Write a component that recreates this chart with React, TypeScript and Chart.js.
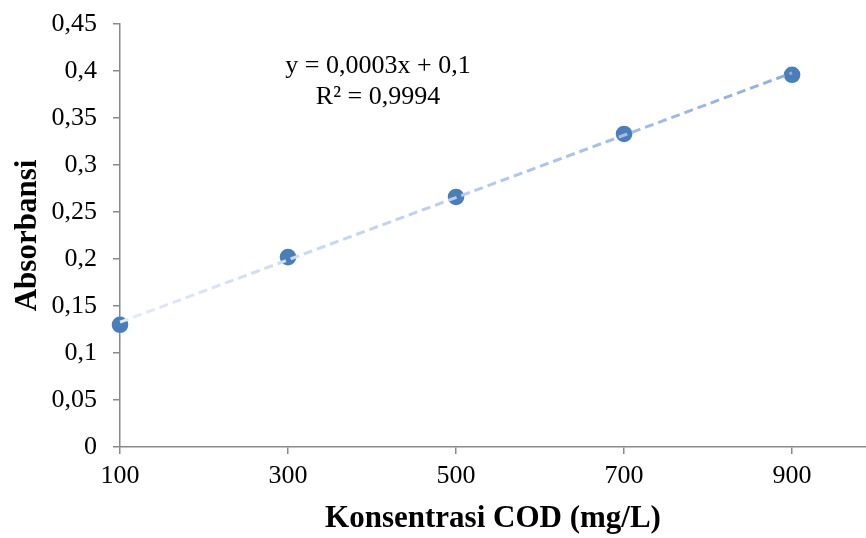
import React, { useEffect, useRef } from "react";
import { Chart, registerables } from "chart.js";

Chart.register(...registerables);

// ---- data ----
const X_VALUES = [100, 300, 500, 700, 900];
const Y_VALUES = [0.13, 0.202, 0.266, 0.333, 0.396];
const X_TICKS = [100, 300, 500, 700, 900];
const Y_TICKS = [0, 0.05, 0.1, 0.15, 0.2, 0.25, 0.3, 0.35, 0.4, 0.45];
const X_TITLE = "Konsentrasi COD (mg/L)";
const Y_TITLE = "Absorbansi";
const EQUATION_LINES = ["y = 0,0003x + 0,1", "R² = 0,9994"];

// least-squares trendline through the data points
function linearFit(xs: number[], ys: number[]) {
  const n = xs.length;
  const mx = xs.reduce((a, b) => a + b, 0) / n;
  const my = ys.reduce((a, b) => a + b, 0) / n;
  let sxy = 0;
  let sxx = 0;
  for (let i = 0; i < n; i++) {
    sxy += (xs[i] - mx) * (ys[i] - my);
    sxx += (xs[i] - mx) * (xs[i] - mx);
  }
  const slope = sxy / sxx;
  return { slope, intercept: my - slope * mx };
}

const FONT = "'Liberation Serif', 'Times New Roman', serif";
const AXIS_COLOR = "#8a8a8a";

const fmt = (v: number) => String(+v.toFixed(4)).replace(".", ",");

export default function App() {
  const canvasRef = useRef<HTMLCanvasElement | null>(null);

  useEffect(() => {
    if (!canvasRef.current) return;
    const fit = linearFit(X_VALUES, Y_VALUES);
    const xMin = Math.min(...X_VALUES);
    const xMax = Math.max(...X_VALUES);
    const trend = [
      { x: xMin, y: fit.slope * xMin + fit.intercept },
      { x: xMax, y: fit.slope * xMax + fit.intercept },
    ];
    const points = X_VALUES.map((x, i) => ({ x, y: Y_VALUES[i] }));

    const equationPlugin = {
      id: "equation",
      afterDatasetsDraw(chart: any) {
        const { ctx, chartArea } = chart;
        ctx.save();
        ctx.font = `26px ${FONT}`;
        ctx.fillStyle = "#000";
        ctx.textAlign = "center";
        ctx.textBaseline = "alphabetic";
        const cx = chartArea.left + 258;
        ctx.fillText(EQUATION_LINES[0], cx, chartArea.top + 49);
        ctx.fillText(EQUATION_LINES[1], cx, chartArea.top + 80);
        ctx.restore();
      },
    };

    const chart = new Chart(canvasRef.current, {
      type: "scatter",
      data: {
        datasets: [
          {
            label: "Trend",
            data: trend,
            showLine: true,
            pointRadius: 0,
            borderWidth: 3,
            borderDash: [9, 5],
            borderColor: (c: any) => {
              const ch = c.chart;
              const sx = ch.scales?.x;
              if (!ch.chartArea || !sx) return "#a9c0e6";
              const g = ch.ctx.createLinearGradient(
                sx.getPixelForValue(xMin), 0, sx.getPixelForValue(xMax), 0
              );
              g.addColorStop(0, "#e3ebf6");
              g.addColorStop(1, "#8faee0");
              return g;
            },
            clip: false as any,
            order: 0,
          },
          {
            label: "Absorbansi",
            data: points,
            pointRadius: 8.3,
            pointHoverRadius: 8.3,
            pointBackgroundColor: "#4a7ebb",
            pointBorderColor: "#4a7ebb",
            pointBorderWidth: 0,
            clip: false as any,
            order: 1,
          },
        ],
      },
      options: {
        animation: false,
        responsive: true,
        maintainAspectRatio: false,
        layout: { autoPadding: false, padding: { top: 24, right: 0, left: 0, bottom: 0 } },
        plugins: {
          legend: { display: false },
          tooltip: { enabled: false },
        },
        scales: {
          x: {
            type: "linear",
            min: 100,
            max: 988,
            afterBuildTicks: (s: any) => {
              s.ticks = X_TICKS.map((v) => ({ value: v }));
            },
            afterFit: (s: any) => {
              s.height = 91;
              s.paddingLeft = 0;
              s.paddingRight = 0;
            },
            grid: {
              drawOnChartArea: false,
              drawTicks: true,
              tickLength: 7,
              color: AXIS_COLOR,
              lineWidth: 1.5,
            },
            border: { display: true, color: AXIS_COLOR, width: 1.5 },
            ticks: {
              padding: 7,
              color: "#000",
              font: { family: FONT, size: 26 },
              maxRotation: 0,
              callback: (v: any) => fmt(Number(v)),
            },
            title: {
              display: true,
              text: X_TITLE,
              color: "#000",
              font: { family: FONT, size: 31, weight: "bold" },
              padding: { top: 0, bottom: 0 },
            },
          },
          y: {
            type: "linear",
            min: 0,
            max: 0.45,
            afterBuildTicks: (s: any) => {
              s.ticks = Y_TICKS.map((v) => ({ value: v }));
            },
            afterFit: (s: any) => {
              s.width = 120;
              s.paddingTop = 0;
              s.paddingBottom = 0;
            },
            grid: {
              drawOnChartArea: false,
              drawTicks: true,
              tickLength: 7,
              color: AXIS_COLOR,
              lineWidth: 1.5,
            },
            border: { display: true, color: AXIS_COLOR, width: 1.5 },
            ticks: {
              padding: 16,
              color: "#000",
              font: { family: FONT, size: 26 },
              callback: (v: any) => fmt(Number(v)),
            },
            title: {
              display: true,
              text: Y_TITLE,
              color: "#000",
              font: { family: FONT, size: 31, weight: "bold" },
              padding: { top: 9, bottom: 0 },
            },
          },
        },
      },
      plugins: [equationPlugin],
    } as any);

    return () => chart.destroy();
  }, []);

  return (
    <div style={{ position: "absolute", left: 0, top: 0, width: 866, height: 538 }}>
      <canvas ref={canvasRef} />
    </div>
  );
}
